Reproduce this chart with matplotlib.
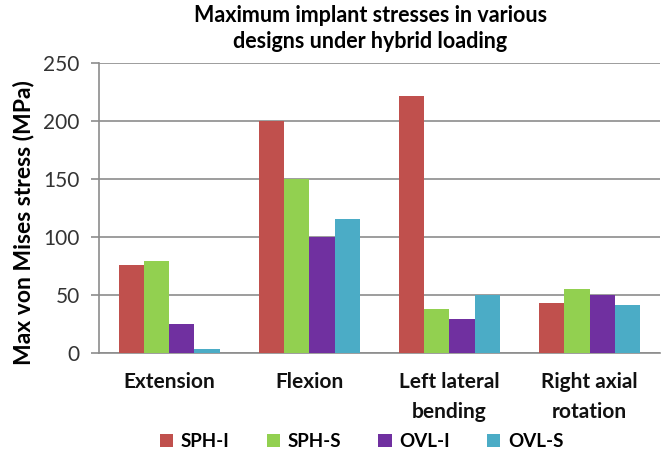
import matplotlib.pyplot as plt
import numpy as np

categories = ['Extension', 'Flexion', 'Left lateral\nbending', 'Right axial\nrotation']
series = ['SPH-I', 'SPH-S', 'OVL-I', 'OVL-S']
sph_i = [76, 200, 221, 43]
sph_s = [79, 150, 38, 55]
ovl_i = [25, 100, 29, 50]
ovl_s = [3, 115, 50, 41]
colors = ['#C0504D', '#92D050', '#7030A0', '#4BACC6']

plt.rcParams['font.family'] = ['Lato', 'DejaVu Sans']

fig = plt.figure(figsize=(6.61, 4.53), dpi=100)
ax = fig.add_axes([0.15, 0.221, 0.848, 0.641])

x = np.arange(len(categories))
w = 0.18
for i, (name, vals) in enumerate(zip(series, [sph_i, sph_s, ovl_i, ovl_s])):
    ax.bar(x + (i - 1.5) * w, vals, w, color=colors[i], label=name, zorder=3)

ax.set_xlim(-0.5, 3.5)
ax.set_ylim(0, 250)
ax.set_yticks(range(0, 251, 50))
ax.yaxis.grid(True, color='#8c8c8c', linewidth=1.2, zorder=0)
ax.set_xticks(x)
ax.set_xticklabels(categories, fontsize=15, fontweight='bold', color='#111111',
                   linespacing=1.6)
ax.tick_params(axis='y', labelsize=15, color='#8c8c8c', labelcolor='#333333',
               length=6, width=1.2, pad=8)
ax.tick_params(axis='x', length=0, pad=14)
for s in ['top', 'right']:
    ax.spines[s].set_visible(False)
ax.spines['left'].set_color('#8c8c8c')
ax.spines['left'].set_linewidth(1.2)
ax.spines['bottom'].set_color('#8c8c8c')
ax.spines['bottom'].set_linewidth(1.2)

ax.set_ylabel('Max von Mises stress (MPa)', fontsize=16.5, fontweight='bold')
ax.yaxis.set_label_coords(-0.115, 0.45)
fig.text(0.56, 0.99, 'Maximum implant stresses in various\ndesigns under hybrid loading',
         ha='center', va='top', fontsize=15.5, fontweight='bold', linespacing=1.3)

fig.legend(loc='lower center', ncol=4, bbox_to_anchor=(0.547, -0.03), frameon=False,
           prop={'size': 13.5, 'weight': 'bold'}, handlelength=0.7, handleheight=0.7,
           handletextpad=0.4, columnspacing=2.0)

fig.savefig('out.png', dpi=100)
